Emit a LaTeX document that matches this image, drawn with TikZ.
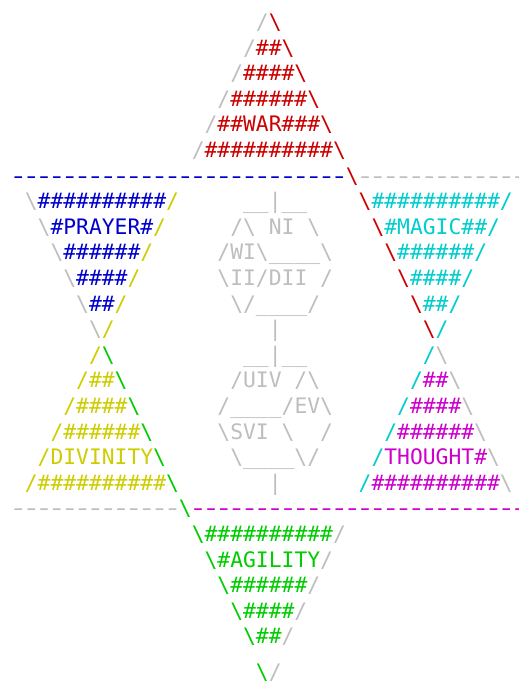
\documentclass[tikz,border=0pt]{standalone}
\usepackage{fontspec}
\setmonofont{DejaVu Sans Mono}
\definecolor{cR}{RGB}{205,0,0}
\definecolor{cB}{RGB}{0,0,205}
\definecolor{cY}{RGB}{205,205,0}
\definecolor{cC}{RGB}{0,205,205}
\definecolor{cM}{RGB}{205,0,205}
\definecolor{cG}{RGB}{0,205,0}
\definecolor{cK}{RGB}{190,190,190}
\newcommand\BS{\textbackslash}
\newcommand\putseg[4]{\node[txt,text=#3,name=n#2-#1] at ({12+12.84*#1},{29.5+25.6*(#2-1)}) {#4};}
\newcommand\dashrow[4]{\foreach \c in {#2,...,#3} {\node[txt,anchor=base,xscale=1.4,transform shape,text=#4,name=d#1-\c] at ({12+12.84*\c+6.42},{29.5+25.6*(#1-1)}) {-};}}
\begin{document}
\begin{tikzpicture}[x=0.75pt,y=-0.75pt,
  txt/.style={anchor=base west,inner sep=0pt,outer sep=0pt,font=\ttfamily\fontsize{16pt}{19.2pt}\selectfont}]
\fill[white] (0,0) rectangle (518,684);
\useasboundingbox (0,0) rectangle (518,684);
% top triangle (WAR)
\putseg{19}{1}{cK}{/}\putseg{20}{1}{cR}{\BS}
\putseg{18}{2}{cK}{/}\putseg{19}{2}{cR}{\#\#\BS}
\putseg{17}{3}{cK}{/}\putseg{18}{3}{cR}{\#\#\#\#\BS}
\putseg{16}{4}{cK}{/}\putseg{17}{4}{cR}{\#\#\#\#\#\#\BS}
\putseg{15}{5}{cK}{/}\putseg{16}{5}{cR}{\#\#WAR\#\#\#\BS}
\putseg{14}{6}{cK}{/}\putseg{15}{6}{cR}{\#\#\#\#\#\#\#\#\#\#\BS}
% upper dashed line
\dashrow{7}{0}{25}{cB}
\putseg{26}{7}{cR}{\BS}
\dashrow{7}{27}{39}{cK}
% row 8
\putseg{1}{8}{cK}{\BS}\putseg{2}{8}{cB}{\#\#\#\#\#\#\#\#\#\#}\putseg{12}{8}{cY}{/}
\putseg{18}{8}{cK}{\_\_|\_\_}
\putseg{27}{8}{cR}{\BS}\putseg{28}{8}{cC}{\#\#\#\#\#\#\#\#\#\#/}
% row 9
\putseg{2}{9}{cK}{\BS}\putseg{3}{9}{cB}{\#PRAYER\#}\putseg{11}{9}{cY}{/}
\putseg{17}{9}{cK}{/\BS}\putseg{20}{9}{cK}{NI}\putseg{23}{9}{cK}{\BS}
\putseg{28}{9}{cR}{\BS}\putseg{29}{9}{cC}{\#MAGIC\#\#/}
% row 10
\putseg{3}{10}{cK}{\BS}\putseg{4}{10}{cB}{\#\#\#\#\#\#}\putseg{10}{10}{cY}{/}
\putseg{16}{10}{cK}{/WI\BS\_\_\_\_\BS}
\putseg{29}{10}{cR}{\BS}\putseg{30}{10}{cC}{\#\#\#\#\#\#/}
% row 11
\putseg{4}{11}{cK}{\BS}\putseg{5}{11}{cB}{\#\#\#\#}\putseg{9}{11}{cY}{/}
\putseg{16}{11}{cK}{\BS II/DII}\putseg{24}{11}{cK}{/}
\putseg{30}{11}{cR}{\BS}\putseg{31}{11}{cC}{\#\#\#\#/}
% row 12
\putseg{5}{12}{cK}{\BS}\putseg{6}{12}{cB}{\#\#}\putseg{8}{12}{cY}{/}
\putseg{17}{12}{cK}{\BS/\_\_\_\_/}
\putseg{31}{12}{cR}{\BS}\putseg{32}{12}{cC}{\#\#/}
% row 13
\putseg{6}{13}{cK}{\BS}\putseg{7}{13}{cY}{/}
\putseg{20}{13}{cK}{|}
\putseg{32}{13}{cR}{\BS}\putseg{33}{13}{cC}{/}
% row 14
\putseg{6}{14}{cY}{/}\putseg{7}{14}{cG}{\BS}
\putseg{18}{14}{cK}{\_\_|\_\_}
\putseg{32}{14}{cC}{/}\putseg{33}{14}{cK}{\BS}
% row 15
\putseg{5}{15}{cY}{/\#\#}\putseg{8}{15}{cG}{\BS}
\putseg{17}{15}{cK}{/UIV}\putseg{22}{15}{cK}{/\BS}
\putseg{31}{15}{cC}{/}\putseg{32}{15}{cM}{\#\#}\putseg{34}{15}{cK}{\BS}
% row 16
\putseg{4}{16}{cY}{/\#\#\#\#}\putseg{9}{16}{cG}{\BS}
\putseg{16}{16}{cK}{/\_\_\_\_/EV\BS}
\putseg{30}{16}{cC}{/}\putseg{31}{16}{cM}{\#\#\#\#}\putseg{35}{16}{cK}{\BS}
% row 17
\putseg{3}{17}{cY}{/\#\#\#\#\#\#}\putseg{10}{17}{cG}{\BS}
\putseg{16}{17}{cK}{\BS SVI}\putseg{21}{17}{cK}{\BS}\putseg{24}{17}{cK}{/}
\putseg{29}{17}{cC}{/}\putseg{30}{17}{cM}{\#\#\#\#\#\#}\putseg{36}{17}{cK}{\BS}
% row 18
\putseg{2}{18}{cY}{/DIVINITY}\putseg{11}{18}{cG}{\BS}
\putseg{17}{18}{cK}{\BS\_\_\_\_\BS/}
\putseg{28}{18}{cC}{/}\putseg{29}{18}{cM}{THOUGHT\#}\putseg{37}{18}{cK}{\BS}
% row 19
\putseg{1}{19}{cY}{/\#\#\#\#\#\#\#\#\#\#}\putseg{12}{19}{cG}{\BS}
\putseg{20}{19}{cK}{|}
\putseg{27}{19}{cC}{/}\putseg{28}{19}{cM}{\#\#\#\#\#\#\#\#\#\#}\putseg{38}{19}{cK}{\BS}
% lower dashed line
\dashrow{20}{0}{12}{cK}
\putseg{13}{20}{cG}{\BS}
\dashrow{20}{14}{39}{cM}
% bottom triangle (AGILITY)
\putseg{14}{21}{cG}{\BS\#\#\#\#\#\#\#\#\#\#}\putseg{25}{21}{cK}{/}
\putseg{15}{22}{cG}{\BS\#AGILITY}\putseg{24}{22}{cK}{/}
\putseg{16}{23}{cG}{\BS\#\#\#\#\#\#}\putseg{23}{23}{cK}{/}
\putseg{17}{24}{cG}{\BS\#\#\#\#}\putseg{22}{24}{cK}{/}
\putseg{18}{25}{cG}{\BS\#\#}\putseg{21}{25}{cK}{/}
\node[txt,text=cG,name=n26-19] at ({12+12.84*19},679) {\BS};
\node[txt,text=cK,name=n26-20] at ({12+12.84*20},679) {/};
\end{tikzpicture}
\end{document}
